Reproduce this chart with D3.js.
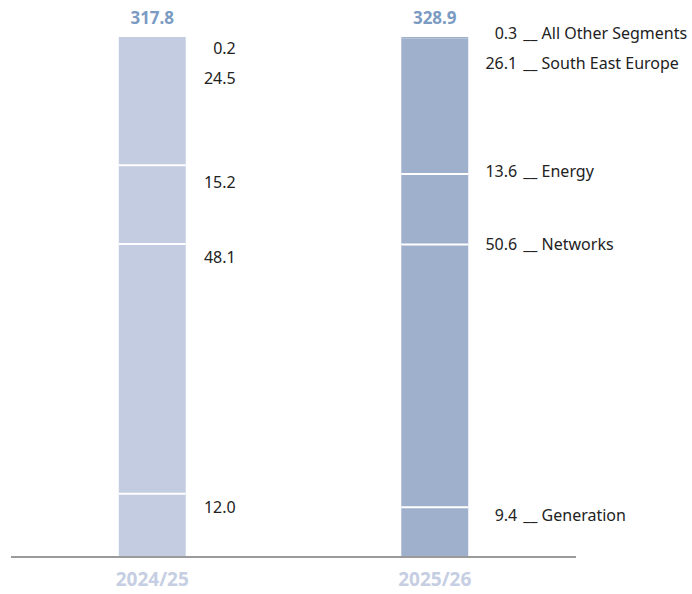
<!DOCTYPE html>
<html>
<head>
<meta charset="utf-8">
<script src="https://cdn.jsdelivr.net/npm/d3@7/dist/d3.min.js"></script>
<style>
  html, body { margin: 0; padding: 0; background: #fff; }
  svg { display: block; font-family: "Noto Sans", "Open Sans", sans-serif; }
</style>
</head>
<body>
<svg id="chart" width="692" height="594"></svg>
<script>
// ---- data ----
const years = ["2024/25", "2025/26"];
const totals = [317.8, 328.9];
const segments = ["Generation", "Networks", "Energy", "South East Europe", "All Other Segments"];
const values2024 = [12.0, 48.1, 15.2, 24.5, 0.2];
const values2025 = [9.4, 50.6, 13.6, 26.1, 0.3];

// ---- layout (not data) ----
const barColors = ["#c3cce0", "#9eb0cc"];
const labelDy = [
  [19, 19, 23, 46, 17],
  [14, 5, 3, 30, 2]
];

const svg = d3.select("#chart");

const rows = years.map((y, i) => {
  const vals = i === 0 ? values2024 : values2025;
  const r = { year: y };
  segments.forEach((s, j) => r[s] = vals[j]);
  return r;
});

const stack = d3.stack().keys(segments);
const series = stack(rows);

const x = d3.scaleBand().domain(years).range([11, 576])
  .paddingInner(0.763).paddingOuter(0.3815);
const y = d3.scaleLinear().domain([0, 100]).range([556, 37]);

// bars
years.forEach((yr, i) => {
  const g = svg.append("g");
  series.forEach((s, j) => {
    const d = s[i];
    const top = y(d[1]), bot = y(d[0]);
    g.append("rect")
      .attr("x", x(yr))
      .attr("width", x.bandwidth())
      .attr("y", top)
      .attr("height", Math.max(0, bot - top))
      .attr("fill", barColors[i]);
  });
  // separators
  series.slice(0, 3).forEach(s => {
    const d = s[i];
    g.append("line")
      .attr("x1", x(yr)).attr("x2", x(yr) + x.bandwidth())
      .attr("y1", y(d[1])).attr("y2", y(d[1]))
      .attr("stroke", "#fff").attr("stroke-width", 2);
  });
});

// axis baseline
const axis = svg.append("g").attr("transform", "translate(0,557)")
  .call(d3.axisBottom(x).tickSize(0).tickPadding(20));
axis.select(".domain").attr("stroke", "#9a9a9a").attr("stroke-width", 2)
  .attr("d", "M11,0H576");
axis.selectAll(".tick text")
  .attr("fill", "#c5cee2")
  .attr("font-size", "19px")
  .attr("font-weight", "bold")
  .attr("font-family", "'Noto Sans', sans-serif")
  .attr("dy", "0.71em")
  .attr("y", 16);

// totals
years.forEach((yr, i) => {
  svg.append("text")
    .attr("x", x(yr) + x.bandwidth() / 2)
    .attr("y", 24)
    .attr("text-anchor", "middle")
    .attr("fill", "#7b9bc3")
    .attr("font-size", "17px")
    .attr("font-weight", "bold")
    .text(totals[i].toFixed(1));
});

// segment labels
years.forEach((yr, i) => {
  const rightX = x(yr) + x.bandwidth() + (i === 0 ? 50 : 49);
  series.forEach((s, j) => {
    const d = s[i];
    const by = y(d[1]) + labelDy[i][j];
    svg.append("text")
      .attr("x", rightX).attr("y", by)
      .attr("text-anchor", "end")
      .attr("fill", "#222")
      .attr("font-size", "16px")
      .text((d[1] - d[0]).toFixed(1));
    if (i === 1) {
      svg.append("text")
        .attr("x", rightX + 6).attr("y", by)
        .attr("fill", "#222")
        .attr("font-size", "16px")
        .text("__ " + segments[j]);
    }
  });
});
</script>
</body>
</html>
